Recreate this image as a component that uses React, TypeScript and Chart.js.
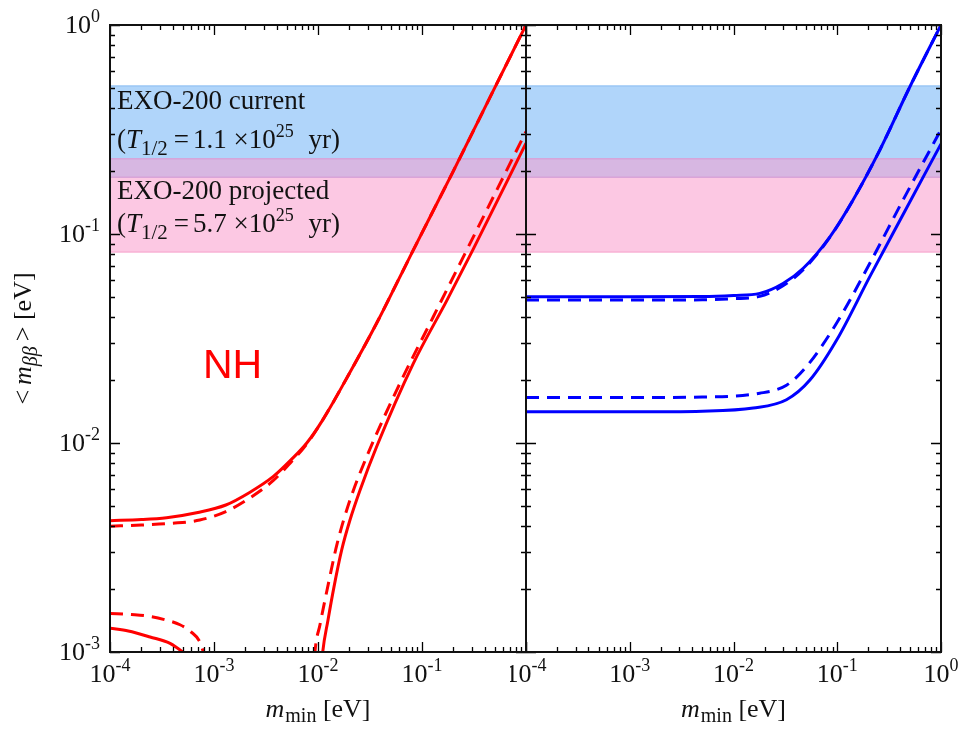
import React, { useEffect, useRef } from "react";
import { Chart, registerables } from "chart.js";

Chart.register(...registerables);

// ---------- tick labels ----------
const xTickValues = [1e-4, 1e-3, 1e-2, 1e-1, 1];
const xTickExps = ["-4", "-3", "-2", "-1", "0"];
const yTickValues = [1e-3, 1e-2, 1e-1, 1];
const yTickExps = ["-3", "-2", "-1", "0"];

// ---------- EXO-200 bands [low, high] in eV ----------
const bandCurrent = [0.187, 0.51];
const bandProjected = [0.082, 0.229];

// ---------- NH (normal hierarchy) ----------
const nhUpperSolidX = [1e-4, 2e-4, 3.5e-4, 7e-4, 1.3e-3, 2.2e-3, 3.7e-3, 5.5e-3, 7.8e-3, 0.011, 0.02, 0.0366, 0.06, 0.0824, 0.2, 0.5, 1.0];
const nhUpperSolidY = [0.00425, 0.0043, 0.00439, 0.00465, 0.00505, 0.0058, 0.0069, 0.0083, 0.01, 0.0128, 0.0215, 0.0374, 0.061, 0.0837, 0.2, 0.5, 1.0];
const nhUpperDashX = [1e-4, 2e-4, 4e-4, 7.3e-4, 1.3e-3, 2.2e-3, 3.7e-3, 5.5e-3, 7.8e-3, 0.011, 0.02, 0.0366, 0.06, 0.0824, 0.2, 0.5, 1.0];
const nhUpperDashY = [0.004, 0.00405, 0.00413, 0.00428, 0.0047, 0.00545, 0.0066, 0.0081, 0.0099, 0.0128, 0.0215, 0.0374, 0.061, 0.0837, 0.2, 0.5, 1.0];

const nhLowSolidX = [1e-4, 1.5e-4, 2.43e-4, 3.78e-4, 5e-4, 6e-4, 8e-4, 1e-3];
const nhLowSolidY = [0.0013, 0.00126, 0.00118, 0.0011, 0.001, 0.000925, 0.000775, 0.000625];
const nhLowDashX = [1e-4, 1.6e-4, 2.43e-4, 3.5e-4, 4.71e-4, 6e-4, 7.3e-4, 7.9e-4, 9e-4];
const nhLowDashY = [0.00153, 0.00151, 0.00148, 0.00142, 0.00135, 0.00125, 0.00112, 0.001, 0.0008];

const nhLowerSolidX = [0.0102, 0.0111, 0.01247, 0.01425, 0.0169, 0.0203, 0.0254, 0.0366, 0.0824, 0.173, 0.311, 1.0];
const nhLowerSolidY = [0.0006, 0.001, 0.00142, 0.00205, 0.00308, 0.00428, 0.00596, 0.0096, 0.024, 0.048, 0.0846, 0.272];
const nhLowerDashX = [0.0088, 0.00935, 0.01045, 0.01222, 0.0153, 0.0203, 0.0294, 0.0614, 0.1285, 0.269, 1.0];
const nhLowerDashY = [0.0006, 0.001, 0.00135, 0.00198, 0.00331, 0.00533, 0.0086, 0.0193, 0.0402, 0.0837, 0.309];

// ---------- IH (inverted hierarchy) ----------
const ihUpperSolidX = [1e-4, 1e-3, 0.005, 0.01, 0.0179, 0.03, 0.047, 0.085, 0.142, 0.257, 0.5, 1.0];
const ihUpperSolidY = [0.0501, 0.0501, 0.0502, 0.0508, 0.052, 0.058, 0.0686, 0.097, 0.1455, 0.252, 0.505, 1.0];
const ihUpperDashX = [1e-4, 1e-3, 0.005, 0.01, 0.0179, 0.03, 0.047, 0.085, 0.142, 0.257, 0.5, 1.0];
const ihUpperDashY = [0.0483, 0.0483, 0.0484, 0.049, 0.0503, 0.0565, 0.0675, 0.0965, 0.1455, 0.252, 0.505, 1.0];

const ihLowerSolidX = [1e-4, 1e-3, 0.005, 0.0155, 0.0324, 0.0545, 0.0984, 0.206, 0.431, 1.0];
const ihLowerSolidY = [0.0141, 0.0141, 0.0142, 0.0147, 0.0161, 0.02, 0.031, 0.0625, 0.124, 0.27];
const ihLowerDashX = [1e-4, 1e-3, 0.005, 0.0179, 0.0324, 0.0505, 0.0984, 0.206, 0.431, 1.0];
const ihLowerDashY = [0.0165, 0.0165, 0.0166, 0.0173, 0.0189, 0.0232, 0.0374, 0.0724, 0.1455, 0.316];

// ---------- styling ----------
const RED = "#ff0000";
const BLUE = "#0000ff";
const IH_LABEL = "#2f76c2";
const BLUE_FILL = "#b0d5fa";
const BLUE_EDGE = "#98c6f5";
const PINK_FILL = "#fcc8e3";
const PINK_EDGE = "#f8b2d5";
const OVERLAP_FILL = "#d7b7e2";
const SERIF = "'Liberation Serif', 'DejaVu Serif', serif";
const F26 = `26px ${SERIF}`;
const I26 = `italic 26px ${SERIF}`;
const F27 = `27px ${SERIF}`;
const I27 = `italic 27px ${SERIF}`;
const F18 = `18px ${SERIF}`;
const F20 = `20px ${SERIF}`;
const F21 = `21px ${SERIF}`;
const I20 = `italic 20px ${SERIF}`;

type Run = { text: string; font: string; dy?: number; gap?: number };

function drawRuns(ctx: CanvasRenderingContext2D, runs: Run[], x: number, y: number, align: "left" | "center" | "right") {
  ctx.textAlign = "left";
  ctx.textBaseline = "alphabetic";
  const widths = runs.map((r) => {
    ctx.font = r.font;
    return ctx.measureText(r.text).width + (r.gap || 0);
  });
  const total = widths.reduce((a, b) => a + b, 0);
  let cx = align === "center" ? x - total / 2 : align === "right" ? x - total : x;
  runs.forEach((r, i) => {
    ctx.font = r.font;
    ctx.fillText(r.text, cx, y + (r.dy || 0));
    cx += widths[i];
  });
}

function line(xs: number[], ys: number[], color: string, dashed: boolean) {
  return {
    data: xs.map((x, i) => ({ x, y: ys[i] })),
    borderColor: color,
    backgroundColor: color,
    borderWidth: 3,
    borderDash: dashed ? [13, 8] : [],
    showLine: true,
    pointRadius: 0,
    fill: false,
    cubicInterpolationMode: "monotone" as const,
  };
}

type PanelCfg = {
  left: boolean;
  xLabelIdx: number[];
};

function makePlugin(cfg: PanelCfg) {
  return {
    id: "panelDecor",
    beforeDatasetsDraw(chart: any) {
      const { ctx, chartArea: a, scales } = chart;
      const y = scales.y;
      const w = a.right - a.left;
      ctx.save();
      const bTop = y.getPixelForValue(bandCurrent[1]);
      const bBot = y.getPixelForValue(bandCurrent[0]);
      const pTop = y.getPixelForValue(bandProjected[1]);
      const pBot = y.getPixelForValue(bandProjected[0]);
      ctx.fillStyle = BLUE_FILL;
      ctx.fillRect(a.left, bTop, w, pTop - bTop);
      ctx.fillStyle = OVERLAP_FILL;
      ctx.fillRect(a.left, pTop, w, bBot - pTop);
      ctx.fillStyle = PINK_FILL;
      ctx.fillRect(a.left, bBot, w, pBot - bBot);
      ctx.lineWidth = 1.5;
      ctx.strokeStyle = BLUE_EDGE;
      ctx.beginPath();
      ctx.moveTo(a.left, bTop);
      ctx.lineTo(a.right, bTop);
      ctx.stroke();
      ctx.strokeStyle = "rgba(215,160,215,0.9)";
      ctx.beginPath();
      ctx.moveTo(a.left, pTop);
      ctx.lineTo(a.right, pTop);
      ctx.moveTo(a.left, bBot);
      ctx.lineTo(a.right, bBot);
      ctx.stroke();
      ctx.strokeStyle = PINK_EDGE;
      ctx.beginPath();
      ctx.moveTo(a.left, pBot);
      ctx.lineTo(a.right, pBot);
      ctx.stroke();
      ctx.restore();
    },
    afterDatasetsDraw(chart: any) {
      const { ctx, chartArea: a, scales } = chart;
      const xs = scales.x;
      const ys = scales.y;
      ctx.save();
      // ticks
      ctx.strokeStyle = "#000";
      ctx.lineWidth = 1.3;
      ctx.beginPath();
      const xMinor: number[] = [];
      for (let d = -4; d < 0; d++) for (let k = 2; k <= 9; k++) xMinor.push(k * Math.pow(10, d));
      const yMinor: number[] = [];
      for (let d = -3; d < 0; d++) for (let k = 2; k <= 9; k++) yMinor.push(k * Math.pow(10, d));
      const xT = (v: number, len: number) => {
        const px = Math.round(xs.getPixelForValue(v)) + 0.5;
        ctx.moveTo(px, a.bottom);
        ctx.lineTo(px, a.bottom - len);
        ctx.moveTo(px, a.top);
        ctx.lineTo(px, a.top + len);
      };
      const yT = (v: number, len: number) => {
        const py = Math.round(ys.getPixelForValue(v)) + 0.5;
        ctx.moveTo(a.left, py);
        ctx.lineTo(a.left + len, py);
        ctx.moveTo(a.right, py);
        ctx.lineTo(a.right - len, py);
      };
      xTickValues.forEach((v) => xT(v, 10));
      xMinor.forEach((v) => xT(v, 5));
      yTickValues.forEach((v) => yT(v, 10));
      yMinor.forEach((v) => yT(v, 5));
      ctx.stroke();
      // frame
      ctx.lineWidth = 2;
      ctx.strokeStyle = "#111";
      ctx.strokeRect(a.left, a.top, a.right - a.left, a.bottom - a.top);

      ctx.fillStyle = "#111";
      // x tick labels
      cfg.xLabelIdx.forEach((i) => {
        const px = xs.getPixelForValue(xTickValues[i]);
        drawRuns(ctx, [{ text: "10", font: F26 }, { text: xTickExps[i], font: F18, dy: -11 }], px, 682, "center");
      });
      // x title
      const cx = (a.left + a.right) / 2;
      drawRuns(
        ctx,
        [
          { text: "m", font: I26, gap: 1 },
          { text: "min", font: F20, dy: 5 },
          { text: " [eV]", font: F26 },
        ],
        cx,
        717,
        "center"
      );
      if (cfg.left) {
        yTickValues.forEach((v, i) => {
          const py = ys.getPixelForValue(v);
          drawRuns(ctx, [{ text: "10", font: F26 }, { text: yTickExps[i], font: F18, dy: -11 }], 100, py + 8, "right");
        });
        // y title
        ctx.save();
        ctx.translate(31, (a.top + a.bottom) / 2);
        ctx.rotate(-Math.PI / 2);
        drawRuns(
          ctx,
          [
            { text: "<", font: F26, gap: 5 },
            { text: "m", font: I26 },
            { text: "ββ", font: I20, dy: 6, gap: 5 },
            { text: ">", font: F26 },
            { text: " [eV]", font: F26 },
          ],
          0,
          0,
          "center"
        );
        ctx.restore();
        // band annotations
        ctx.fillStyle = "#111";
        drawRuns(ctx, [{ text: "EXO-200 current", font: F27 }], 117, 109, "left");
        drawRuns(
          ctx,
          [
            { text: "(", font: F27 },
            { text: "T", font: I27 },
            { text: "1/2", font: F21, dy: 7, gap: 6 },
            { text: "=", font: F27, gap: 4 },
            { text: "1.1 ×10", font: F27 },
            { text: "25", font: F18, dy: -11, gap: 8 },
            { text: " yr)", font: F27 },
          ],
          117,
          148,
          "left"
        );
        drawRuns(ctx, [{ text: "EXO-200 projected", font: F27 }], 117, 199, "left");
        drawRuns(
          ctx,
          [
            { text: "(", font: F27 },
            { text: "T", font: I27 },
            { text: "1/2", font: F21, dy: 7, gap: 6 },
            { text: "=", font: F27, gap: 4 },
            { text: "5.7 ×10", font: F27 },
            { text: "25", font: F18, dy: -11, gap: 8 },
            { text: " yr)", font: F27 },
          ],
          117,
          232,
          "left"
        );
        ctx.fillStyle = RED;
        ctx.font = "41px 'Liberation Sans', Arial, sans-serif";
        ctx.fillText("NH", 203, 378);
      } else {
        ctx.fillStyle = IH_LABEL;
        ctx.font = "41px 'Liberation Sans', Arial, sans-serif";
        ctx.fillText("IH", 729, 570);
      }
      ctx.restore();
    },
  };
}

function Panel(props: {
  left: number;
  width: number;
  padding: { left: number; right: number; top: number; bottom: number };
  datasets: any[];
  cfg: PanelCfg;
}) {
  const ref = useRef<HTMLCanvasElement | null>(null);
  useEffect(() => {
    if (!ref.current) return;
    const chart = new Chart(ref.current, {
      type: "scatter",
      data: { datasets: props.datasets },
      options: {
        animation: false,
        responsive: false,
        events: [],
        layout: { padding: props.padding },
        scales: {
          x: { type: "logarithmic", min: 1e-4, max: 1, display: false },
          y: { type: "logarithmic", min: 1e-3, max: 1, display: false },
        },
        plugins: { legend: { display: false }, tooltip: { enabled: false } },
      },
      plugins: [makePlugin(props.cfg)],
    } as any);
    return () => chart.destroy();
  }, []);
  return (
    <canvas
      ref={ref}
      width={props.width}
      height={729}
      style={{ position: "absolute", left: props.left, top: 0, width: props.width, height: 729 }}
    />
  );
}

export default function App() {
  const nhSets = [
    line(nhUpperSolidX, nhUpperSolidY, RED, false),
    line(nhUpperDashX, nhUpperDashY, RED, true),
    line(nhLowSolidX, nhLowSolidY, RED, false),
    line(nhLowDashX, nhLowDashY, RED, true),
    line(nhLowerSolidX, nhLowerSolidY, RED, false),
    line(nhLowerDashX, nhLowerDashY, RED, true),
  ];
  const ihSets = [
    line(ihUpperSolidX, ihUpperSolidY, BLUE, false),
    line(ihUpperDashX, ihUpperDashY, BLUE, true),
    line(ihLowerSolidX, ihLowerSolidY, BLUE, false),
    line(ihLowerDashX, ihLowerDashY, BLUE, true),
  ];
  return (
    <div style={{ position: "fixed", left: 0, top: 0, width: 959, height: 729, background: "#fff", overflow: "hidden" }}>
      <Panel
        left={0}
        width={540}
        padding={{ left: 110, right: 14, top: 25, bottom: 77 }}
        datasets={nhSets}
        cfg={{ left: true, xLabelIdx: [0, 1, 2, 3] }}
      />
      <Panel
        left={510}
        width={449}
        padding={{ left: 16, right: 18, top: 25, bottom: 77 }}
        datasets={ihSets}
        cfg={{ left: false, xLabelIdx: [0, 1, 2, 3, 4] }}
      />
    </div>
  );
}
